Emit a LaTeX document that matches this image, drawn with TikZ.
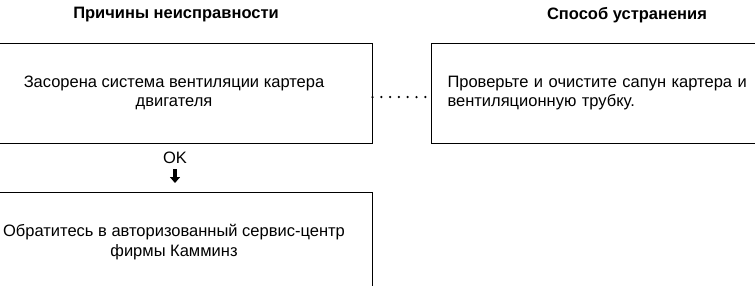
\documentclass[tikz,border=0pt]{standalone}
\usepackage{fontspec}
\setmainfont{Liberation Sans}
\usetikzlibrary{arrows.meta}

\begin{document}
\begin{tikzpicture}[x=1pt,y=-1pt,
		box/.style={draw, line width=1pt, minimum height=100pt, inner sep=0pt, font=\fontsize{16.5}{19.5}\selectfont},
		kopf/.style={font=\bfseries\fontsize{16.5}{19.5}\selectfont}]
		\useasboundingbox (0,0) rectangle (755,285);
		\clip (0,0) rectangle (755,285);
		
		% Überschriften
		\node[kopf] (kopfL) at (176,15) {Причины неисправности};
		\node[kopf] (kopfR) at (627,15) {Способ устранения};
		
		% Kästen
		\node[box, minimum width=396pt, align=center] (ursache) at (174,93) {Засорена система вентиляции картера\\двигателя};
		\node[box, anchor=west, text width=340pt, inner xsep=16pt, align=left] (abhilfe) at (431,93) {Проверьте и очистите сапун картера и\\вентиляционную трубку.};
		\node[box, minimum width=396pt, align=center] (service) at (174,242) {Обратитесь в авторизованный сервис-центр\\фирмы Камминз};
		
		% Verbindungen
		\draw[line width=2.5pt, line cap=round, dash pattern=on 0pt off 8.8pt] ([yshift=-4pt]ursache.east) -- ([yshift=-4pt]abhilfe.west);
		\node[font=\fontsize{16.5}{19.5}\selectfont, inner sep=2pt] (ok) at (175,158) {OK};
		\coordinate (pfeil) at (175,183);
		\draw[line width=4pt, shorten <=3pt, -{Triangle[width=10pt,length=6pt]}] (ok.south) -- (pfeil);
	\end{tikzpicture}
\end{document}
